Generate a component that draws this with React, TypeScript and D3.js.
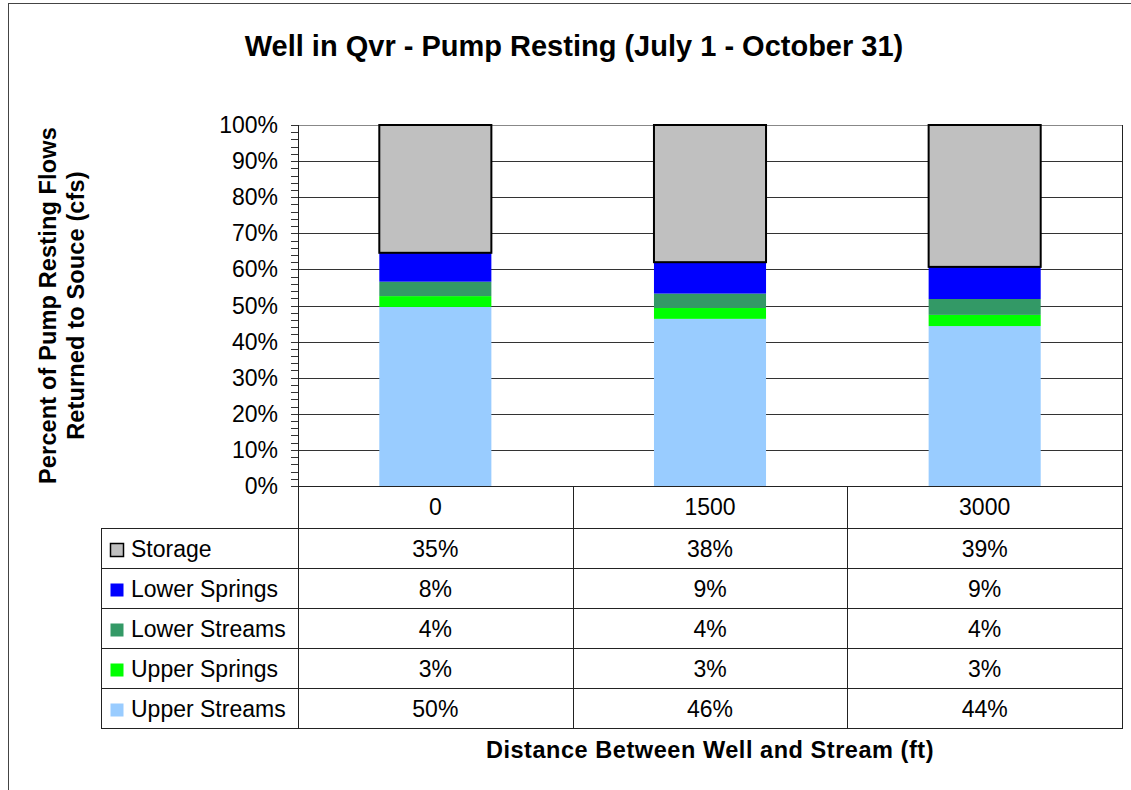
import React from "react";
import * as d3 from "d3";

const categories = ["0", "1500", "3000"];
const seriesNames = ["Storage", "Lower Springs", "Lower Streams", "Upper Springs", "Upper Streams"];
const storage = [0.354, 0.38, 0.393];
const lowerSprings = [0.08, 0.087, 0.089];
const lowerStreams = [0.04, 0.04, 0.044];
const upperSprings = [0.03, 0.03, 0.031];
const upperStreams = [0.496, 0.463, 0.443];
const seriesColors = ["#C0C0C0", "#0000FF", "#339966", "#00FF00", "#99CCFF"];
const yTickValues = [0, 0.1, 0.2, 0.3, 0.4, 0.5, 0.6, 0.7, 0.8, 0.9, 1.0];
const titleText = "Well in Qvr - Pump Resting (July 1 - October 31)";
const yTitleLines = ["Percent of Pump Resting Flows", "Returned to Souce (cfs)"];
const xTitleText = "Distance Between Well and Stream (ft)";

const FONT = "'Liberation Sans', Arial, Helvetica, sans-serif";

export default function App() {
  const W = 1131;
  const H = 790;
  const plotL = 298;
  const plotR = 1122;
  const plotT = 125;
  const plotB = 486;
  const tableL = 101;
  const catRowB = 528;
  const tableB = 728;

  const seriesValues = [storage, lowerSprings, lowerStreams, upperSprings, upperStreams];
  const rows = categories.map((c, i) => {
    const o: any = { cat: c };
    seriesNames.forEach((s, j) => (o[s] = seriesValues[j][i]));
    return o;
  });
  const stackKeys = [...seriesNames].reverse();
  const stacked = d3.stack().keys(stackKeys)(rows as any);

  const x = d3
    .scaleBand()
    .domain(categories)
    .range([plotL, plotR])
    .paddingInner(0.592)
    .paddingOuter(0.296);
  const xCell = d3.scaleBand().domain(categories).range([plotL, plotR]);
  const y = d3.scaleLinear().domain([0, 1]).range([plotB, plotT]);
  const minorTicks = d3.range(0, 1.0001, 0.02);
  const rowScale = d3.scaleBand().domain(seriesNames).range([catRowB, tableB]);
  const fmt = d3.format(".0%");
  const colorOf = (name: string) => seriesColors[seriesNames.indexOf(name)];

  const lineColor = "#222";

  return (
    <svg
      width={W}
      height={H}
      style={{ position: "absolute", left: 0, top: 0, background: "#fff" }}
      fontFamily={FONT}
    >
      {/* outer frame */}
      <rect x={8.5} y={3.5} width={W + 20} height={H + 20} fill="#fff" stroke="#444" strokeWidth={1} />

      {/* title */}
      <text x={574} y={56} textAnchor="middle" fontSize={29} fontWeight="bold" fill="#000">
        {titleText}
      </text>

      {/* gridlines */}
      {yTickValues.map((t) => (
        <line
          key={"g" + t}
          x1={plotL}
          x2={plotR}
          y1={Math.round(y(t)) + 0.5}
          y2={Math.round(y(t)) + 0.5}
          stroke={t === 1 ? "#888" : "#333"}
          strokeWidth={1}
        />
      ))}

      {/* bars */}
      {stacked.map((layer) => (
        <g key={layer.key} fill={colorOf(layer.key as string)}>
          {layer.map((d, i) => {
            const isStorage = layer.key === "Storage";
            const bx = x(categories[i]) as number;
            const y0 = y(d[1]);
            const y1 = y(d[0]);
            return (
              <rect
                key={i}
                x={bx}
                y={y0}
                width={x.bandwidth()}
                height={y1 - y0}
                stroke={isStorage ? "#000" : "none"}
                strokeWidth={isStorage ? 2 : 0}
              />
            );
          })}
        </g>
      ))}

      {/* y axis */}
      <line x1={plotL + 0.5} x2={plotL + 0.5} y1={plotT} y2={tableB} stroke={lineColor} />
      {minorTicks.map((t, i) => (
        <line
          key={"m" + i}
          x1={291}
          x2={plotL}
          y1={Math.round(y(t)) + 0.5}
          y2={Math.round(y(t)) + 0.5}
          stroke="#333"
          strokeWidth={1}
        />
      ))}
      {yTickValues.map((t) => (
        <text key={"yl" + t} x={278} y={y(t) + 8} textAnchor="end" fontSize={23} fill="#000">
          {fmt(t)}
        </text>
      ))}

      {/* plot right border */}
      <line x1={plotR + 0.5} x2={plotR + 0.5} y1={plotT} y2={tableB} stroke={lineColor} />

      {/* data table */}
      <line x1={plotL} x2={plotR + 1} y1={plotB + 0.5} y2={plotB + 0.5} stroke={lineColor} />
      {seriesNames.map((s) => (
        <line
          key={"rl" + s}
          x1={tableL}
          x2={plotR + 1}
          y1={Math.round(rowScale(s) as number) + 0.5}
          y2={Math.round(rowScale(s) as number) + 0.5}
          stroke={lineColor}
        />
      ))}
      <line x1={tableL} x2={plotR + 1} y1={tableB + 0.5} y2={tableB + 0.5} stroke={lineColor} />
      <line x1={tableL + 0.5} x2={tableL + 0.5} y1={catRowB} y2={tableB} stroke={lineColor} />
      {categories.slice(1).map((c) => (
        <line
          key={"cl" + c}
          x1={Math.round(xCell(c) as number) + 0.5}
          x2={Math.round(xCell(c) as number) + 0.5}
          y1={plotB}
          y2={tableB}
          stroke={lineColor}
        />
      ))}
      {categories.map((c) => (
        <text
          key={"cat" + c}
          x={(xCell(c) as number) + xCell.bandwidth() / 2}
          y={(plotB + catRowB) / 2 + 8}
          textAnchor="middle"
          fontSize={23}
          fill="#000"
        >
          {c}
        </text>
      ))}
      {seriesNames.map((s, j) => {
        const ry = rowScale(s) as number;
        const cy = ry + rowScale.bandwidth() / 2;
        return (
          <g key={"row" + s}>
            <rect
              x={110.5}
              y={cy - 4.5}
              width={13}
              height={13}
              fill={seriesColors[j]}
              stroke={s === "Storage" ? "#000" : "none"}
              strokeWidth={1.5}
            />
            <text x={131} y={cy + 8.5} fontSize={23} fill="#000">
              {s}
            </text>
            {categories.map((c, i) => (
              <text
                key={c}
                x={(xCell(c) as number) + xCell.bandwidth() / 2}
                y={cy + 8.5}
                textAnchor="middle"
                fontSize={23}
                fill="#000"
              >
                {fmt(seriesValues[j][i])}
              </text>
            ))}
          </g>
        );
      })}

      {/* axis titles */}
      {yTitleLines.map((l, i) => (
        <text
          key={"yt" + i}
          transform={`translate(${56 + i * 28},${(plotT + plotB) / 2}) rotate(-90)`}
          textAnchor="middle"
          fontSize={23.5}
          fontWeight="bold"
          letterSpacing={0.15}
          fill="#000"
        >
          {l}
        </text>
      ))}
      <text
        x={(plotL + plotR) / 2}
        y={758}
        textAnchor="middle"
        fontSize={23.5}
        fontWeight="bold"
        letterSpacing={0.55}
        fill="#000"
      >
        {xTitleText}
      </text>
    </svg>
  );
}
